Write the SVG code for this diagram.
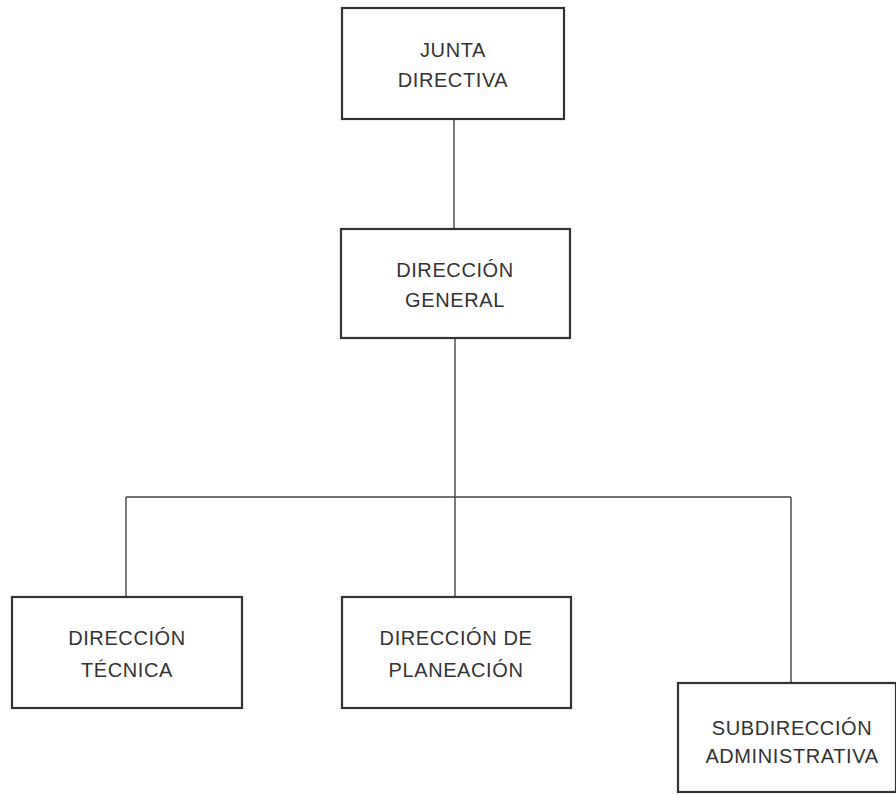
<svg xmlns="http://www.w3.org/2000/svg" width="896" height="794" viewBox="0 0 896 794">
<style>
.box{fill:#fff;stroke:#333;stroke-width:2.2}
.t{font-family:"Liberation Sans",Arial,sans-serif;font-size:20px;letter-spacing:0.6px;fill:#333;text-anchor:middle}
.c{stroke:#444;stroke-width:1.4;fill:none}
</style>
<rect width="896" height="794" fill="#fff"/>
<g id="connectors">
<line class="c" x1="454" y1="119" x2="454" y2="229"/>
<line class="c" x1="455" y1="338" x2="455" y2="597"/>
<line class="c" x1="126" y1="497" x2="791" y2="497"/>
<line class="c" x1="126" y1="497" x2="126" y2="597"/>
<line class="c" x1="791" y1="497" x2="791" y2="683"/>
</g>
<g id="junta">
<rect class="box" x="342" y="8" width="222" height="111"/>
<text class="t" x="453" y="57">JUNTA</text>
<text class="t" x="453" y="87">DIRECTIVA</text>
</g>
<g id="general">
<rect class="box" x="341" y="229" width="229" height="109"/>
<text class="t" x="455" y="277">DIRECCIÓN</text>
<text class="t" x="455" y="307">GENERAL</text>
</g>
<g id="tecnica">
<rect class="box" x="12" y="597" width="230" height="111"/>
<text class="t" x="127" y="645">DIRECCIÓN</text>
<text class="t" x="127" y="677">TÉCNICA</text>
</g>
<g id="planeacion">
<rect class="box" x="342" y="597" width="229" height="111"/>
<text class="t" x="456" y="645">DIRECCIÓN DE</text>
<text class="t" x="456" y="677">PLANEACIÓN</text>
</g>
<g id="subdireccion">
<rect class="box" x="678" y="683" width="218" height="109"/>
<text class="t" x="792" y="735">SUBDIRECCIÓN</text>
<text class="t" x="792" y="763">ADMINISTRATIVA</text>
</g>
</svg>
